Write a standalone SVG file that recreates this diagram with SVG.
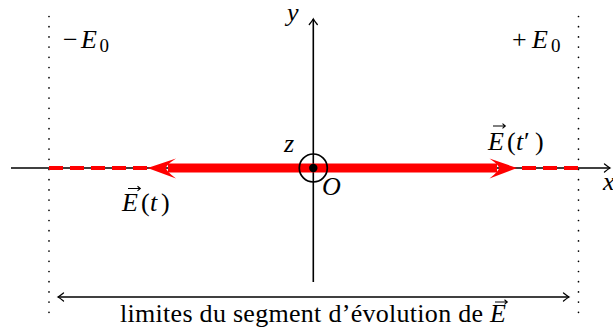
<svg xmlns="http://www.w3.org/2000/svg" width="613" height="329" viewBox="0 0 613 329">
<defs>
<style>
.ax{stroke:#000;stroke-width:1.6;fill:none}
.dot{stroke:#000;stroke-width:1.7;stroke-linecap:round;stroke-dasharray:0 10.2;fill:none}
.rd{stroke:#f00;stroke-width:4;stroke-dasharray:14 7;fill:none}
.tx{font-size:26px;fill:#000}
.it{font-style:italic}
.sub{font-size:19px;font-style:normal}
.vec{stroke:#000;stroke-width:1.1;fill:none}
</style>
<marker id="to" viewBox="-7 -5 9 10" refX="0" refY="0" markerWidth="9" markerHeight="10" markerUnits="userSpaceOnUse" orient="auto-start-reverse">
<path d="M-5.5,-4 Q-1.5,-0.8 0,0 Q-1.5,0.8 -5.5,4" stroke="#000" stroke-width="1.3" fill="none" stroke-linecap="round"/>
</marker>
</defs>
<rect width="613" height="329" fill="#fff"/>
<g id="limits">
<line class="dot" x1="49" y1="16.5" x2="49" y2="322"/>
<line class="dot" x1="578.5" y1="16.5" x2="578.5" y2="322"/>
</g>
<g id="connectors">
<line id="x-axis" class="ax" x1="11" y1="168" x2="610" y2="168" marker-end="url(#to)"/>
<line id="y-axis" class="ax" x1="313.3" y1="282" x2="313.3" y2="19" marker-end="url(#to)"/>
<line id="range" class="ax" x1="58" y1="297" x2="569" y2="297" marker-start="url(#to)" marker-end="url(#to)"/>
<line class="rd" x1="49" y1="168" x2="148" y2="168"/>
<line class="rd" x1="578" y1="168" x2="516" y2="168"/>
<line stroke="#f00" stroke-width="9" x1="168" y1="168" x2="497" y2="168"/>
<path fill="#f00" d="M147.5,168 L176,158.5 Q166,165 166,168 Q166,171 176,178.5 Z"/>
<path fill="#f00" d="M517,168 L489.5,158.5 Q499,165 499,168 Q499,171 489.5,178.5 Z"/>
</g>
<g font-family="'Liberation Serif', 'DejaVu Serif', serif">
<g id="origin">
<circle cx="313.3" cy="168" r="14" fill="none" stroke="#000" stroke-width="1.7"/>
<circle cx="313.3" cy="168" r="4.2" fill="#000"/>
<text class="tx it" x="322" y="195">O</text>
<text class="tx it" x="284" y="152">z</text>
</g>
<g id="label-y"><text class="tx it" x="287" y="21">y</text></g>
<g id="label-x"><text class="tx it" x="603" y="190">x</text></g>
<g id="label-minusE0"><text class="tx" x="63" y="48">−<tspan class="it" x="81">E</tspan><tspan class="sub" x="99.5" y="52">0</tspan></text></g>
<g id="label-plusE0"><text class="tx" x="512" y="48">+<tspan class="it" x="532">E</tspan><tspan class="sub" x="551" y="52">0</tspan></text></g>
<g id="label-Et">
<text class="tx" x="122" y="211"><tspan class="it">E</tspan><tspan x="141">(</tspan><tspan class="it" x="150">t</tspan><tspan x="161">)</tspan></text>
<path class="vec" d="M128,188.5 L140,188.5 M137.5,186.2 L140.3,188.5 L137.5,190.8"/>
</g>
<g id="label-Etp">
<text class="tx" x="488" y="149.5"><tspan class="it">E</tspan><tspan x="507">(</tspan><tspan class="it" x="516">t</tspan><tspan x="524">′</tspan><tspan x="535">)</tspan></text>
<path class="vec" d="M493,126 L505,126 M502.5,123.7 L505.3,126 L502.5,128.3"/>
</g>
<g id="caption">
<text class="tx" x="120" y="322" font-size="25" textLength="386" lengthAdjust="spacing">limites du segment d’évolution de <tspan class="it">E</tspan></text>
<path class="vec" d="M495,302 L507,302 M504.5,299.7 L507.3,302 L504.5,304.3"/>
</g>
</g>
</svg>
